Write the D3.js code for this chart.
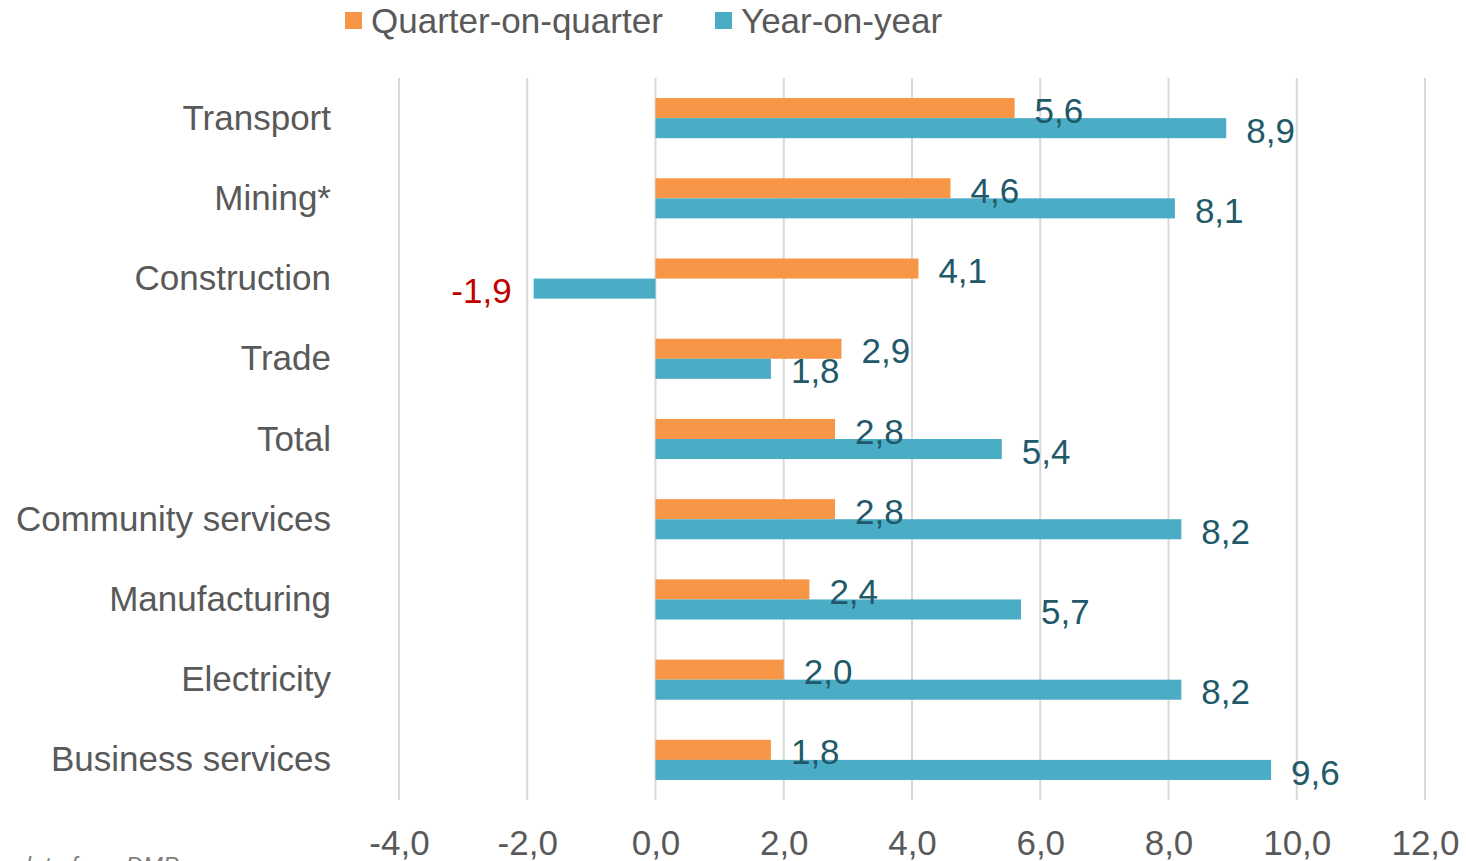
<!DOCTYPE html>
<html lang="en">
	<head>
		<meta charset="utf-8">
		<title>Growth by sector</title>
		<script type="text/javascript" src="https://d3js.org/d3.v7.min.js"></script>
		<style type="text/css">
			body{ margin:0; background:#fff; }
			text{ font-family:"Liberation Sans", Arial, sans-serif; }
		</style>
	</head>
	<body>
		<script type="text/javascript">

			var w = 1466;
			var h = 861;

			var sectors = ["Transport","Mining*","Construction","Trade","Total","Community services","Manufacturing","Electricity","Business services"];
			var qoq = [5.6, 4.6, 4.1, 2.9, 2.8, 2.8, 2.4, 2.0, 1.8];
			var yoy = [8.9, 8.1, -1.9, 1.8, 5.4, 8.2, 5.7, 8.2, 9.6];
			var ticks = [-4, -2, 0, 2, 4, 6, 8, 10, 12];
			var seriesNames = ["Quarter-on-quarter","Year-on-year"];
			var colors = ["#F79646","#4BACC6"];

			// comma decimals, plain hyphen for minus
			function fmt(v){
				return d3.format(".1f")(v).replace(".", ",").replace("\u2212", "-");
			}

			var svg = d3.select("body")
						.append("svg")
						.attr("width", w)
						.attr("height", h);

			var x = d3.scaleLinear()
						.domain([-4, 12])
						.range([399, 1425]);

			var y = d3.scaleBand()
						.domain(sectors)
						.range([78, 800])
						.paddingInner(0.5)
						.paddingOuter(0.25);

			var sub = d3.scaleBand()
						.domain([0, 1])
						.range([0, y.bandwidth()]);

			// grid lines
			svg.selectAll("line.grid")
				.data(ticks)
				.enter()
				.append("line")
				.attr("class", "grid")
				.attr("x1", function(d){ return x(d); })
				.attr("x2", function(d){ return x(d); })
				.attr("y1", 78)
				.attr("y2", 800)
				.style("stroke", "#d9d9d9")
				.style("stroke-width", 2);

			// x axis labels
			var xAxis = d3.axisBottom(x)
						.tickValues(ticks)
						.tickSize(0)
						.tickPadding(0)
						.tickFormat(fmt);

			var gx = svg.append("g")
						.attr("transform", "translate(0,855)")
						.call(xAxis);
			gx.select(".domain").remove();
			gx.selectAll("text")
				.attr("dy", 0)
				.style("font-size", "35px")
				.style("fill", "#595959");

			// category labels
			var yAxis = d3.axisLeft(y)
						.tickSize(0)
						.tickPadding(0);

			var gy = svg.append("g")
						.attr("transform", "translate(331,0)")
						.call(yAxis);
			gy.select(".domain").remove();
			gy.selectAll("text")
				.attr("dy", "0.33em")
				.style("font-size", "35px")
				.style("fill", "#595959");

			var rows = [];
			for (var i = 0; i < sectors.length; i++){
				rows.push({sector: sectors[i], s: 0, v: qoq[i]});
				rows.push({sector: sectors[i], s: 1, v: yoy[i]});
			}

			svg.selectAll("rect.bar")
				.data(rows)
				.enter()
				.append("rect")
				.attr("class", "bar")
				.attr("x", function(d){ return x(Math.min(0, d.v)); })
				.attr("y", function(d){ return y(d.sector) + sub(d.s); })
				.attr("width", function(d){ return Math.abs(x(d.v) - x(0)); })
				.attr("height", sub.bandwidth())
				.style("fill", function(d){ return colors[d.s]; });

			svg.selectAll("text.val")
				.data(rows)
				.enter()
				.append("text")
				.attr("class", "val")
				.attr("x", function(d){ return d.v < 0 ? x(d.v) - 22 : x(d.v) + 20; })
				.attr("y", function(d){ return y(d.sector) + sub(d.s) + sub.bandwidth() / 2 + 2; })
				.attr("dy", "0.36em")
				.attr("text-anchor", function(d){ return d.v < 0 ? "end" : "start"; })
				.style("font-size", "35px")
				.style("fill", function(d){ return d.v < 0 ? "#C00000" : "#215968"; })
				.text(function(d){ return fmt(d.v); });

			// legend
			var leg = svg.selectAll("g.leg")
						.data(seriesNames)
						.enter()
						.append("g")
						.attr("class", "leg")
						.attr("transform", function(d, i){ return "translate(" + (i == 0 ? 345 : 715) + ",0)"; });

			leg.append("rect")
				.attr("x", 0)
				.attr("y", 12)
				.attr("width", 17)
				.attr("height", 17)
				.style("fill", function(d, i){ return colors[i]; });

			leg.append("text")
				.attr("x", 26)
				.attr("y", 33)
				.style("font-size", "35px")
				.style("fill", "#595959")
				.text(function(d){ return d; });

			// source note, cut off at the bottom edge like the original
			svg.append("text")
				.attr("x", -72)
				.attr("y", 874)
				.style("font-size", "24px")
				.style("font-style", "italic")
				.style("fill", "#7f7f7f")
				.text("Source: data from DMP");

		</script>
	</body>
</html>
